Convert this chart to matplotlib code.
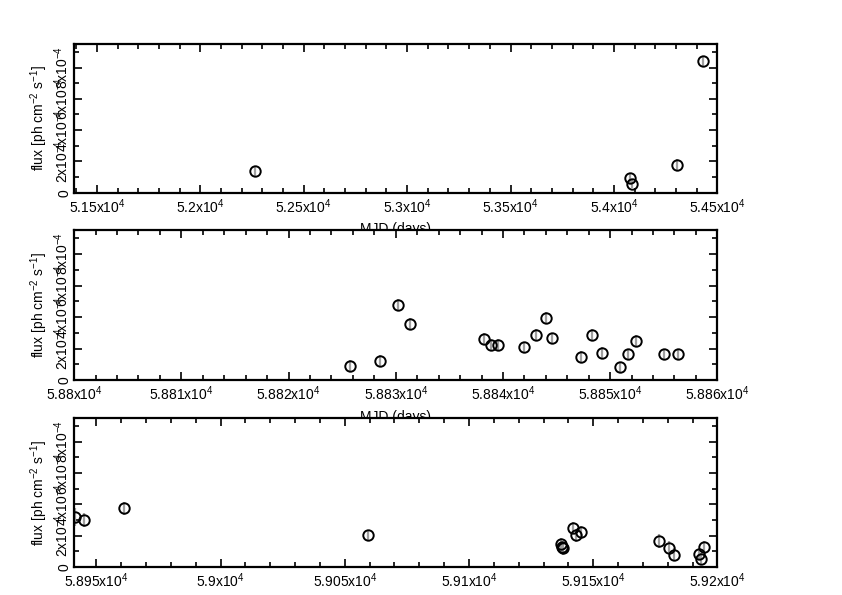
"""Three-period light curve: flux vs MJD."""
import numpy as np
import matplotlib; matplotlib.use('Agg')
import matplotlib.pyplot as plt
from matplotlib.ticker import MultipleLocator, FuncFormatter

plt.rcParams['font.family'] = ['Liberation Sans', 'DejaVu Sans']
plt.rcParams['mathtext.fontset'] = 'custom'
plt.rcParams['mathtext.rm'] = 'Liberation Sans'
plt.rcParams['mathtext.it'] = 'Liberation Sans:italic'
plt.rcParams['mathtext.bf'] = 'Liberation Sans:bold'

# period 1
mjd1  = [52265, 54079, 54089, 54306, 54432]
flux1 = [1.37, 0.94, 0.58, 1.79, 8.4]
err1  = [0.35, 0.30, 0.30, 0.35, 0.35]

# period 2
mjd2  = [58825.7, 58828.5, 58830.2, 58831.3, 58838.2, 58838.9, 58839.5,
         58842.0, 58843.1, 58844.0, 58844.6, 58847.3, 58848.3, 58849.2,
         58850.9, 58851.7, 58852.4, 58855.0, 58856.3]
flux2 = [0.91, 1.22, 4.79, 3.55, 2.64, 2.26, 2.26, 2.09, 2.89, 3.95,
         2.66, 1.49, 2.89, 1.75, 0.82, 1.65, 2.49, 1.65, 1.65]
err2  = [0.35, 0.35, 0.35, 0.40, 0.35, 0.35, 0.35, 0.35, 0.35, 0.35,
         0.35, 0.35, 0.35, 0.35, 0.35, 0.35, 0.35, 0.35, 0.35]

# period 3
mjd3  = [58941.3, 58944.9, 58961.0, 59059.2, 59137.0, 59137.5, 59138.0,
         59141.7, 59143.1, 59145.2, 59176.6, 59180.4, 59182.4, 59192.5,
         59193.5, 59194.8]
flux3 = [3.2, 2.99, 3.74, 2.03, 1.45, 1.25, 1.2, 2.5, 2.03, 2.24,
         1.65, 1.24, 0.79, 0.81, 0.54, 1.28]
err3  = [0.55, 0.45, 0.40, 0.35, 0.40, 0.40, 0.40, 0.40, 0.40, 0.40,
         0.45, 0.40, 0.40, 0.35, 0.35, 0.40]

panels = [
    (mjd1, flux1, err1, (51390, 54500), 500, 100, True),
    (mjd2, flux2, err2, (58800, 58860), 10, 2, True),
    (mjd3, flux3, err3, (58941, 59200), 50, 10, False),
]
boxes = [[0.088, 0.676, 0.764, 0.250],
         [0.088, 0.361, 0.764, 0.252],
         [0.088, 0.047, 0.764, 0.250]]

def xfmt(v, pos):
    return f'{round(v/1e4, 6):g}x10$^{{4}}$'

def yfmt(v, pos):
    if abs(v) < 1e-12:
        return '0'
    return f'{round(v/1e-4, 6):g}x10$^{{-4}}$'

fig = plt.figure(figsize=(8.42, 5.95), dpi=100)
for (mjd, fl, er, xl, xmaj, xmin, lab), box in zip(panels, boxes):
    ax = fig.add_axes(box)
    y = np.array(fl) * 1e-4
    e = np.array(er) * 1e-4
    ax.errorbar(mjd, y, yerr=e, fmt='none', ecolor='#a0a0a0', elinewidth=1.6, zorder=2)
    ax.plot(mjd, y, 'o', ms=7.5, mfc='none', mec='black', mew=1.4, zorder=3)
    ax.set_xlim(*xl)
    ax.set_ylim(0, 9.5e-4)
    ax.xaxis.set_major_locator(MultipleLocator(xmaj))
    ax.xaxis.set_minor_locator(MultipleLocator(xmin))
    ax.yaxis.set_major_locator(MultipleLocator(2e-4))
    ax.yaxis.set_minor_locator(MultipleLocator(1e-4))
    ax.xaxis.set_major_formatter(FuncFormatter(xfmt))
    ax.yaxis.set_major_formatter(FuncFormatter(yfmt))
    ax.tick_params(which='both', direction='in', top=True, right=True,
                   labelsize=10, width=1.2)
    ax.tick_params(which='major', length=6)
    ax.tick_params(which='minor', length=3.5)
    ax.tick_params(axis='x', pad=3)
    ax.tick_params(axis='y', pad=2)
    for t in ax.get_yticklabels():
        t.set_rotation(90)
        t.set_va('center')
    for sp in ax.spines.values():
        sp.set_linewidth(1.6)
    ax.set_ylabel(r'flux [ph cm$^{-2}$ s$^{-1}$]', fontsize=10, labelpad=2)
    if lab:
        ax.set_xlabel('MJD (days)', fontsize=10, labelpad=5)

fig.savefig('out.png', dpi=100)
